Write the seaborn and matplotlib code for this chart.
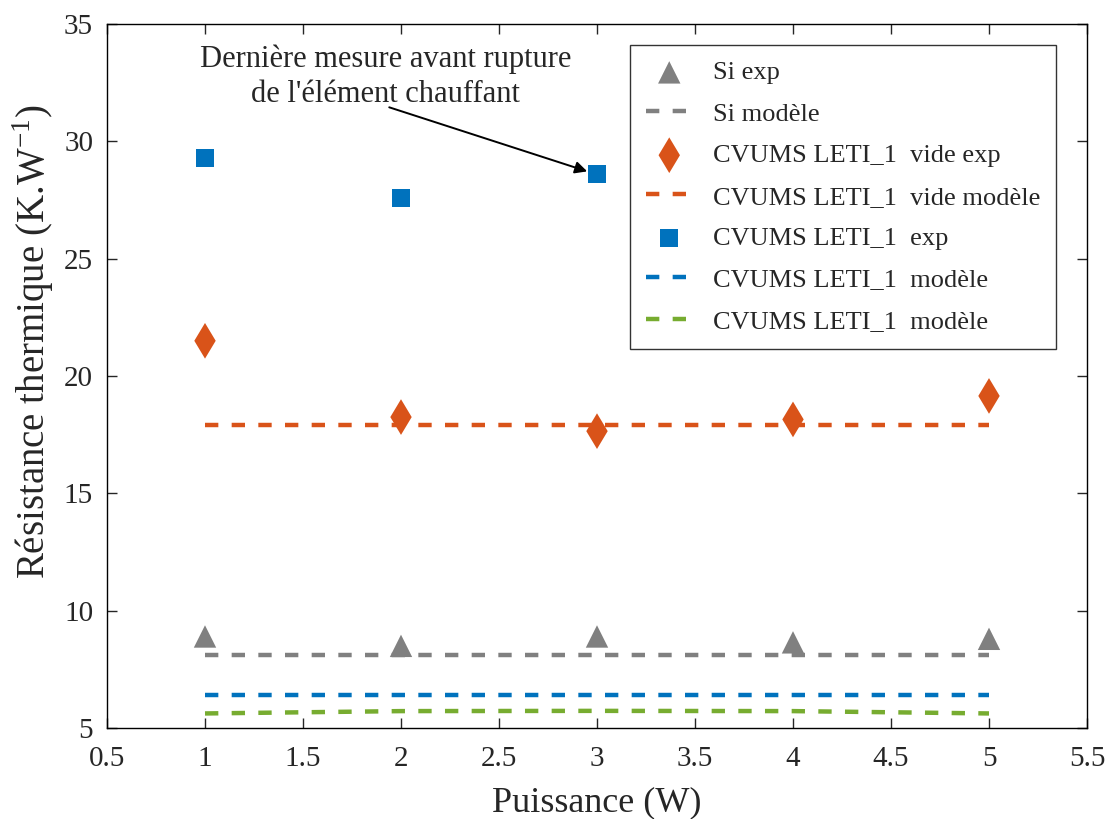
import pandas as pd
import matplotlib.pyplot as plt
import seaborn as sns

# data
puissance = [1, 2, 3, 4, 5]
si_exp = [8.9, 8.5, 8.9, 8.65, 8.8]
si_modele = [8.1, 8.1, 8.1, 8.1, 8.1]
vide_exp = [21.5, 18.25, 17.65, 18.15, 19.15]
vide_modele = [17.9, 17.9, 17.9, 17.9, 17.9]
leti_puissance = [1, 2, 3]
leti_exp = [29.3, 27.6, 28.6]
leti_modele = [6.4, 6.4, 6.4, 6.4, 6.4]
vert_modele = [5.62, 5.72, 5.73, 5.72, 5.62]

x_ticks = [0.5, 1, 1.5, 2, 2.5, 3, 3.5, 4, 4.5, 5, 5.5]
x_labels = ['0.5', '1', '1.5', '2', '2.5', '3', '3.5', '4', '4.5', '5', '5.5']
y_ticks = [5, 10, 15, 20, 25, 30, 35]

gris = '#808080'
orange = '#D95319'
bleu = '#0072BD'
vert = '#77AC30'

sns.set_style('ticks')
plt.rcParams['font.family'] = ['Liberation Serif', 'DejaVu Serif']
plt.rcParams['mathtext.fontset'] = 'custom'
plt.rcParams['mathtext.rm'] = 'Liberation Serif'
plt.rcParams['xtick.direction'] = 'in'
plt.rcParams['ytick.direction'] = 'in'

fig, ax = plt.subplots(figsize=(11.1, 8.19), dpi=100)
fig.subplots_adjust(left=107/1110, right=1087/1110, top=1-24/819, bottom=1-728/819)

dash = (3, 3)
lw = 3.2

sns.scatterplot(x=puissance, y=si_exp, ax=ax, marker='^', s=260, color=gris,
                edgecolor='none', label='Si exp', zorder=3)
sns.lineplot(x=puissance, y=si_modele, ax=ax, color=gris, lw=lw,
             label='Si modèle')
sns.scatterplot(x=puissance, y=vide_exp, ax=ax, marker='d', s=330, color=orange,
                edgecolor='none', label='CVUMS LETI_1  vide exp', zorder=3)
sns.lineplot(x=puissance, y=vide_modele, ax=ax, color=orange, lw=lw,
             label='CVUMS LETI_1  vide modèle')
sns.scatterplot(x=leti_puissance, y=leti_exp, ax=ax, marker='s', s=170, color=bleu,
                edgecolor='none', label='CVUMS LETI_1  exp', zorder=3)
sns.lineplot(x=puissance, y=leti_modele, ax=ax, color=bleu, lw=lw,
             label='CVUMS LETI_1  modèle')
sns.lineplot(x=puissance, y=vert_modele, ax=ax, color=vert, lw=lw,
             label='CVUMS LETI_1  modèle')

for line in ax.get_lines():
    line.set_dashes(dash)

ax.set_xlim(0.5, 5.5)
ax.set_ylim(5, 35)
ax.set_xticks(x_ticks)
ax.set_xticklabels(x_labels)
ax.set_yticks(y_ticks)
ax.tick_params(labelsize=21, length=7, width=1, top=True, right=True)
ax.tick_params(axis='x', pad=13)
ax.tick_params(axis='y', pad=10)
for s in ax.spines.values():
    s.set_linewidth(1)
    s.set_color('black')

ax.set_xlabel('Puissance (W)', fontsize=26, labelpad=10)
ax.set_ylabel('Résistance thermique (K.W$^{\\mathregular{-1}}$)', fontsize=28)
ax.yaxis.set_label_coords(-0.052, 0.548)

# annotation
ax.text(1.92, 32.75, "Dernière mesure avant rupture\nde l'élément chauffant",
        ha='center', va='center', fontsize=22, linespacing=1.3)
ax.annotate('', xy=(2.95, 28.72), xytext=(1.94, 31.45),
            arrowprops=dict(arrowstyle='-|>', color='black', lw=1.4,
                            mutation_scale=18, shrinkA=0, shrinkB=0))

leg = ax.legend(loc='upper right', bbox_to_anchor=(949/980, 683/704),
                borderaxespad=0, fontsize=19, frameon=True, fancybox=False,
                edgecolor='black', handlelength=1.8, labelspacing=0.68,
                borderpad=0.6, handletextpad=0.75, markerscale=1.0)
leg.get_frame().set_linewidth(1)

plt.savefig('out.png', dpi=100)
